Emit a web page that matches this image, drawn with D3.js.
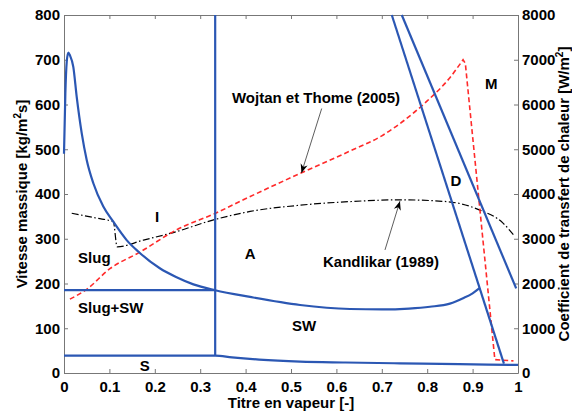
<!DOCTYPE html>
<html><head><meta charset="utf-8">
<script src="https://cdn.jsdelivr.net/npm/d3@7"></script>
<style>
body{margin:0;background:#fff;}
text{font-family:"Liberation Sans",Arial,sans-serif;font-weight:bold;fill:#000;}
</style></head>
<body><svg id="c" width="572" height="416"></svg>
<script>
// ---- data ----
const xTicks = [0,0.1,0.2,0.3,0.4,0.5,0.6,0.7,0.8,0.9,1];
const xTickLabels = ["0","0.1","0.2","0.3","0.4","0.5","0.6","0.7","0.8","0.9","1"];
const gTicks = [0,100,200,300,400,500,600,700,800];
const hTicks = [0,1000,2000,3000,4000,5000,6000,7000,8000];

// stratified-wavy / intermittent-annular boundary (G, kg/m2s)
const swX = [0,0.003,0.006,0.0095,0.013,0.0205,0.028,0.039,0.05,0.0646,0.0866,0.1086,0.138,0.164,0.211,0.248,0.285,0.333,0.41,0.52,0.63,0.70,0.76,0.806,0.85,0.879,0.90,0.916];
const swG = [490,625,695,716,710,684,617,536,476,424,372,338,297,271,234,214,198,185,170,152,143,142,144,148,155,167,178,190];
// stratified boundary S
const sX = [0,0.333,0.37,0.43,0.52,0.62,0.74,0.87,1];
const sG = [39,39,35,30,25.5,23.5,21.6,19.8,18];
// intermittent / slug+SW separators
const vLineX = [0.333,0.333];
const vLineG = [39,800];
const hLineX = [0,0.333];
const hLineG = [185,185];
// dryout and mist lines
const dX = [0.722,0.969];
const dG = [800,21];
const mX = [0.744,0.996];
const mG = [800,189];
// heat transfer coefficients (W/m2K)
const wojX = [0.013,0.05,0.101,0.167,0.248,0.336,0.395,0.52,0.63,0.70,0.75,0.80,0.85,0.879];
const wojH = [1650,1870,2330,2700,3200,3580,3870,4460,4960,5300,5650,6080,6600,7000];
const wojTailX = [0.879,0.884,0.949,0.99];
const wojTailH = [7000,6920,300,270];
const kanX = [0.017,0.072,0.1086,0.117,0.175,0.248,0.322,0.41,0.52,0.63,0.74,0.843,0.916,0.967,0.993];
const kanH = [3570,3460,3380,2820,2970,3160,3400,3610,3750,3830,3870,3830,3640,3350,3050];

// labels (data coordinates)
const regionNames = ["I","Slug","A","Slug+SW","SW","S","D","M"];
const regionX = [0.205,0.031,0.41,0.031,0.529,0.178,0.863,0.941];
const regionG = [337,246,255,134,94,4.5,418,635];
const regionAnchor = ["middle","start","middle","start","middle","middle","middle","middle"];

// ---- layout ----
const W=572,H=416, m={l:64,r:54,t:15,b:43};
const svg=d3.select("#c");
const x=d3.scaleLinear().domain([0,1]).range([m.l,W-m.r]);
const yG=d3.scaleLinear().domain([0,800]).range([H-m.b,m.t]);
const yH=d3.scaleLinear().domain([0,8000]).range([H-m.b,m.t]);
const blue="#2b57b3";

// axes frame
const axColor="#777";
const gAx=svg.append("g");
function styleAxis(g){g.select(".domain").attr("stroke",axColor);g.selectAll(".tick line").attr("stroke",axColor);g.selectAll("text").style("font-size","15px").attr("fill","#000");}
gAx.append("g").attr("transform",`translate(0,${H-m.b})`)
  .call(d3.axisBottom(x).tickValues(xTicks).tickFormat((d,i)=>xTickLabels[i]).tickSizeInner(-4).tickSizeOuter(0).tickPadding(8))
  .call(styleAxis);
gAx.append("g").attr("transform",`translate(0,${m.t})`)
  .call(d3.axisTop(x).tickValues(xTicks).tickFormat("").tickSizeInner(-4).tickSizeOuter(0))
  .call(styleAxis);
gAx.append("g").attr("transform",`translate(${m.l},0)`)
  .call(d3.axisLeft(yG).tickValues(gTicks).tickFormat(d3.format("d")).tickSizeInner(-4).tickSizeOuter(0).tickPadding(4))
  .call(styleAxis);
gAx.append("g").attr("transform",`translate(${W-m.r},0)`)
  .call(d3.axisRight(yH).tickValues(hTicks).tickFormat(d3.format("d")).tickSizeInner(-4).tickSizeOuter(0).tickPadding(4))
  .call(styleAxis);
gAx.selectAll("text").attr("font-weight","bold");

// lines
const lineG=(xs,ys,c)=>d3.line().x((d,i)=>x(xs[i])).y((d,i)=>yG(ys[i])).curve(c||d3.curveLinear)(xs);
const lineH=(xs,ys,c)=>d3.line().x((d,i)=>x(xs[i])).y((d,i)=>yH(ys[i])).curve(c||d3.curveLinear)(xs);
const plot=svg.append("g");
plot.append("path").attr("d",lineH(kanX,kanH,d3.curveMonotoneX)).attr("fill","none").attr("stroke","#000").attr("stroke-width",1.2).attr("stroke-dasharray","7,2.5,1.5,2.5");
const redPath = lineH(wojX,wojH,d3.curveMonotoneX) + lineH(wojTailX,wojTailH).replace(/^M/,"L");
plot.append("path").attr("d",redPath).attr("fill","none").attr("stroke","#ff2a2a").attr("stroke-width",1.6).attr("stroke-dasharray","5,3");
[[swX,swG,d3.curveMonotoneX],[sX,sG,d3.curveMonotoneX],[vLineX,vLineG],[hLineX,hLineG],[dX,dG],[mX,mG]].forEach(([a,b,c])=>{
  plot.append("path").attr("d",lineG(a,b,c)).attr("fill","none").attr("stroke",blue).attr("stroke-width",2.2);
});

// region labels
regionNames.forEach((n,i)=>{
  svg.append("text").attr("x",x(regionX[i])).attr("y",yG(regionG[i])).attr("text-anchor",regionAnchor[i]).style("font-size","15px").text(n);
});

// annotations
svg.append("defs").append("marker").attr("id","ar").attr("viewBox","0 0 10 10").attr("refX",10).attr("refY",5)
  .attr("markerWidth",9).attr("markerHeight",9).attr("markerUnits","userSpaceOnUse").attr("orient","auto")
  .append("path").attr("d","M0,1 L10,5 L0,9 L3,5 Z").attr("fill","#000");
svg.append("text").attr("x",x(0.37)).attr("y",yG(603)).style("font-size","15px").text("Wojtan et Thome (2005)");
svg.append("line").attr("x1",x(0.5676)).attr("y1",yG(591)).attr("x2",x(0.523)).attr("y2",yG(447)).attr("stroke","#333").attr("stroke-width",0.8).attr("marker-end","url(#ar)");
svg.append("text").attr("x",x(0.5705)).attr("y",yG(237)).style("font-size","15px").text("Kandlikar (1989)");
svg.append("line").attr("x1",x(0.707)).attr("y1",yG(275)).attr("x2",x(0.740)).attr("y2",yG(384)).attr("stroke","#333").attr("stroke-width",0.8).attr("marker-end","url(#ar)");

// axis titles
svg.append("text").attr("x",(m.l+W-m.r)/2).attr("y",408).attr("text-anchor","middle").style("font-size","15px").text("Titre en vapeur [-]");
const yt=svg.append("text").attr("transform",`translate(27,${(m.t+H-m.b)/2}) rotate(-90)`).attr("text-anchor","middle").style("font-size","15px");
yt.append("tspan").text("Vitesse massique [kg/m");
yt.append("tspan").attr("dy",-6).style("font-size","10px").text("2");
yt.append("tspan").attr("dy",6).text("s]");
const rt=svg.append("text").attr("transform",`translate(569,${(m.t+H-m.b)/2}) rotate(-90)`).attr("text-anchor","middle").style("font-size","15px");
rt.append("tspan").text("Coefficient de transfert de chaleur [W/m");
rt.append("tspan").attr("dy",-6).style("font-size","10px").text("2");
rt.append("tspan").attr("dy",6).text("]");
</script></body></html>
